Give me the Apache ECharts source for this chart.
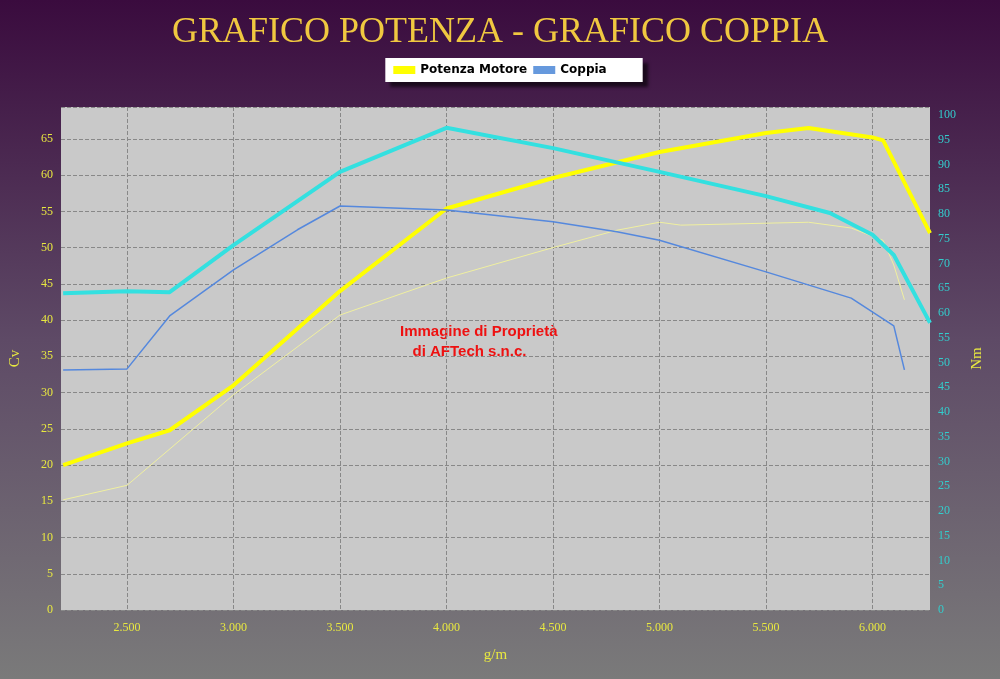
<!DOCTYPE html><html><head><meta charset="utf-8"><script src="https://cdn.jsdelivr.net/npm/echarts@6/dist/echarts.min.js"></script>
<style>html,body{margin:0;padding:0}#c{width:1000px;height:679px}</style></head><body><div id="c"></div><script>
var rpm1=[2200,2500,2700,3000,3500,4000,4500,5000,5500,5700,6000,6050,6270];
var potenza=[20,23,24.8,31,44,55.4,59.6,63.2,65.8,66.5,65.2,64.8,52];
var rpm2=[2200,2500,3000,3500,4000,4500,4800,5000,5100,5700,5900,6050,6100,6150];
var potenza2=[15.2,17.2,29.7,40.7,45.8,50,52.4,53.5,53.1,53.5,52.7,51,47.6,42.8];
var rpm3=[2200,2500,2700,3000,3500,4000,4500,5000,5500,5800,6000,6100,6270];
var coppia=[64,64.4,64.2,73.7,88.5,97.4,93.3,88.5,83.6,80.2,75.8,71.7,58];
var rpm4=[2200,2500,2700,3000,3300,3500,4000,4500,4800,5000,5500,5900,6100,6150];
var coppia2=[48.5,48.7,59.4,68.7,76.8,81.6,80.8,78.4,76.4,74.7,68.3,63,57.4,48.5];
var xTicks=[2500,3000,3500,4000,4500,5000,5500,6000];
function z(a,b){return a.map(function(v,i){return [v,b[i]];});}
var c=echarts.init(document.getElementById('c'));
var lab={color:'#e8e840',fontFamily:'Liberation Serif',fontSize:12};
c.setOption({
backgroundColor:new echarts.graphic.LinearGradient(0,0,0,1,[{offset:0,color:'#3a0b3e'},{offset:0.5,color:'#5e4a66'},{offset:1,color:'#7a7a7a'}]),
title:{text:'GRAFICO POTENZA - GRAFICO COPPIA',left:'center',top:10,textStyle:{color:'#f0c840',fontFamily:'Liberation Serif',fontWeight:'normal',fontSize:36}},
legend:{top:58,left:'center',backgroundColor:'#fff',padding:[6,36,6,8],shadowColor:'rgba(0,0,0,0.6)',shadowOffsetX:5,shadowOffsetY:5,shadowBlur:3,itemWidth:22,itemHeight:8,itemGap:6,
 data:[{name:'Potenza Motore',icon:'rect',itemStyle:{color:'#ffff00'}},{name:'Coppia',icon:'rect',itemStyle:{color:'#6699dd'}}],textStyle:{color:'#000',fontWeight:'bold',fontSize:12,fontFamily:'DejaVu Sans'}},
grid:{left:57,right:70,top:107,bottom:69,show:true,backgroundColor:'#c9c9c9',borderWidth:0},
xAxis:{type:'value',min:2190,max:6270,name:'g/m',nameLocation:'middle',nameGap:38,nameTextStyle:{color:'#e8e840',fontFamily:'Liberation Serif',fontSize:15},
 axisLabel:Object.assign({margin:12,customValues:xTicks,formatter:function(v){return (v/1000).toFixed(3);}},lab),
 axisLine:{show:false},axisTick:{show:false,customValues:xTicks},splitLine:{show:true,lineStyle:{color:'#888',type:'dashed'}}},
yAxis:[{type:'value',min:0,max:69.4,interval:5,name:'Cv',nameLocation:'middle',nameGap:38,nameRotate:90,nameTextStyle:{color:'#e8e840',fontFamily:'Liberation Serif',fontSize:15},
 axisLabel:Object.assign({showMaxLabel:false},lab),axisLine:{show:false},axisTick:{show:false},splitLine:{lineStyle:{color:'#888',type:'dashed'}}},
 {type:'value',min:0,max:101.6,interval:5,name:'Nm',nameLocation:'middle',nameGap:40,nameRotate:90,nameTextStyle:{color:'#e8e840',fontFamily:'Liberation Serif',fontSize:15},
 axisLabel:{showMaxLabel:false,color:'#33cccc',fontSize:12,fontFamily:'Liberation Serif'},axisLine:{show:false},axisTick:{show:false},splitLine:{show:false}}],
series:[
 {name:'Potenza Motore',type:'line',data:z(rpm1,potenza),symbol:'none',lineStyle:{color:'#ffff00',width:4},itemStyle:{color:'#ffff00'}},
 {name:'Potenza 2',type:'line',data:z(rpm2,potenza2),symbol:'none',lineStyle:{color:'#f0f0a0',width:1}},
 {name:'Coppia',type:'line',yAxisIndex:1,data:z(rpm4,coppia2),symbol:'none',lineStyle:{color:'#5588dd',width:1.5},itemStyle:{color:'#6699dd'}},
 {name:'Coppia 2',type:'line',yAxisIndex:1,data:z(rpm3,coppia),symbol:'none',lineStyle:{color:'#33e0e0',width:4}}
],
graphic:[{type:'text',left:400,top:322,style:{text:'Immagine di Proprietà\n   di AFTech s.n.c.',fill:'#ee1111',font:'bold 15px "Liberation Sans"',lineHeight:20}}]
});
</script></body></html>
